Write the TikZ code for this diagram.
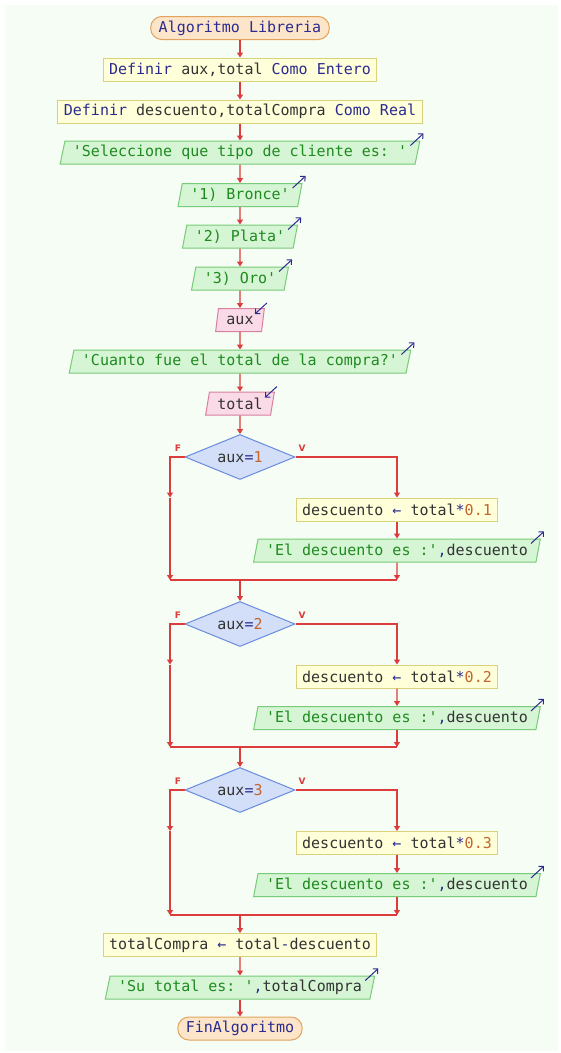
\documentclass[tikz,border=0pt]{standalone}
\usepackage{fontspec}
\setmonofont{DejaVu Sans Mono}
\newfontfamily\lblfont{DejaVu Sans}
\usetikzlibrary{shapes.geometric,arrows.meta,calc}
\definecolor{bgC}{HTML}{F5FDF5}
\definecolor{termF}{HTML}{FCE5C8}
\definecolor{termB}{HTML}{E3A35F}
\definecolor{procF}{HTML}{FFFFD9}
\definecolor{procB}{HTML}{D9D27A}
\definecolor{outF}{HTML}{D5F5D5}
\definecolor{outB}{HTML}{78CB78}
\definecolor{inF}{HTML}{F9DAE6}
\definecolor{inB}{HTML}{D9809F}
\definecolor{decF}{HTML}{D3DEF8}
\definecolor{decB}{HTML}{6A8BDD}
\definecolor{arrowR}{HTML}{DD3C3C}
\definecolor{kwC}{HTML}{2B2B90}
\definecolor{varC}{HTML}{333333}
\definecolor{strC}{HTML}{1F8A1F}
\definecolor{numC}{HTML}{C2652F}
\newcommand\Kw[1]{\textcolor{kwC}{#1}}
\newcommand\Sx[1]{\textcolor{strC}{#1}}
\newcommand\Nm[1]{\textcolor{numC}{#1}}
\newcommand\Dtxt[1]{\smash{\raisebox{-5.5pt}{#1}}}
\tikzset{
  term/.style={rectangle, rounded corners=11pt, draw=termB, fill=termF, line width=1pt, minimum height=23pt, inner xsep=8pt, inner ysep=0pt},
  proc/.style={rectangle, draw=procB, fill=procF, line width=1pt, minimum height=23pt, inner xsep=6pt, inner ysep=0pt},
  outp/.style={trapezium, trapezium left angle=72, trapezium right angle=108, trapezium stretches body, draw=outB, fill=outF, line width=1pt, minimum height=23pt, inner xsep=8pt, inner ysep=0pt},
  inp/.style={outp, draw=inB, fill=inF},
  dec/.style={diamond, shape aspect=2.44, draw=decB, fill=decF, line width=1pt, minimum width=110pt, minimum height=45pt, inner sep=0pt},
  flow/.style={draw=arrowR, line width=1.2pt, -{Triangle[width=6pt,length=5pt]}},
  link/.style={draw=arrowR, line width=1.2pt},
  icon/.style={draw=kwC, line width=1pt, -{Straight Barb[length=3.5pt,width=7pt]}},
  flag/.style={font=\lblfont\bfseries\fontsize{9}{10}\selectfont, text=arrowR, inner sep=0pt}
}
\begin{document}
\begin{tikzpicture}[x=1pt,y=-1pt, every node/.append style={font=\ttfamily\fontsize{15}{18}\selectfont, text=varC}]
\useasboundingbox (0,0) rectangle (560,1053);
\fill[bgC] (5,5) rectangle (558,1051);

\node[term] (start) at (240,28) {\Kw{Algoritmo Libreria}};
\node[proc] (def1) at (240,69.5) {\Kw{Definir} aux,total \Kw{Como Entero}};
\node[proc] (def2) at (240,111.5) {\Kw{Definir} descuento,totalCompra \Kw{Como Real}};
\node[outp] (sel) at (240,152.5) {\Sx{'Seleccione que tipo de cliente es: '}};
\node[outp] (obr) at (240,195) {\Sx{'1) Bronce'}};
\node[outp] (opl) at (240,236.5) {\Sx{'2) Plata'}};
\node[outp] (oor) at (240,278.5) {\Sx{'3) Oro'}};
\node[inp] (iaux) at (240,320) {aux};
\node[outp] (cuanto) at (240,361.5) {\Sx{'Cuanto fue el total de la compra?'}};
\node[inp] (itot) at (240,403.5) {total};

% decision 1
\node[dec] (d1) at (240,457) {\Dtxt{aux\Kw{=}\Nm{1}}};
\node[flag] (f1) at (178,448) {F};
\node[flag] (v1) at (302,448) {V};
\node[proc] (r1) at (397,509.5) {descuento \Kw{←} total\Kw{*}\Nm{0.1}};
\node[outp] (o1) at (397,550.5) {\Sx{'El descuento es :'}\Kw{,}descuento};
\coordinate (j1) at (240,580);
\coordinate (j1L) at (170,580);
\coordinate (j1R) at (397,580);
\coordinate (m1) at (j1L |- r1.north);

% decision 2
\node[dec] (d2) at (240,624) {\Dtxt{aux\Kw{=}\Nm{2}}};
\node[flag] (f2) at (178,615) {F};
\node[flag] (v2) at (302,615) {V};
\node[proc] (r2) at (397,676.5) {descuento \Kw{←} total\Kw{*}\Nm{0.2}};
\node[outp] (o2) at (397,718) {\Sx{'El descuento es :'}\Kw{,}descuento};
\coordinate (j2) at (240,747);
\coordinate (j2L) at (170,747);
\coordinate (j2R) at (397,747);
\coordinate (m2) at (j2L |- r2.north);

% decision 3
\node[dec] (d3) at (240,790) {\Dtxt{aux\Kw{=}\Nm{3}}};
\node[flag] (f3) at (178,781) {F};
\node[flag] (v3) at (302,781) {V};
\node[proc] (r3) at (397,843) {descuento \Kw{←} total\Kw{*}\Nm{0.3}};
\node[outp] (o3) at (397,885) {\Sx{'El descuento es :'}\Kw{,}descuento};
\coordinate (j3) at (240,915);
\coordinate (j3L) at (170,915);
\coordinate (j3R) at (397,915);
\coordinate (m3) at (j3L |- r3.north);

\node[proc] (tc) at (240,945) {totalCompra \Kw{←} total\Kw{-}descuento};
\node[outp] (su) at (240,987.5) {\Sx{'Su total es: '}\Kw{,}totalCompra};
\node[term] (fin) at (240,1028.5) {\Kw{FinAlgoritmo}};

% main flow
\draw[flow] (start) -- (def1);
\draw[flow] (def1) -- (def2);
\draw[flow] (def2) -- (sel);
\draw[flow] (sel) -- (obr);
\draw[flow] (obr) -- (opl);
\draw[flow] (opl) -- (oor);
\draw[flow] (oor) -- (iaux);
\draw[flow] (iaux) -- (cuanto);
\draw[flow] (cuanto) -- (itot);
\draw[flow] (itot) -- (d1);

\draw[flow] (d1.east) -| (r1.north);
\draw[flow] (r1) -- (o1);
\draw[flow] (o1) -- (j1R);
\draw[flow] (d1.west) -| (m1);
\draw[flow] (m1) -- (j1L);
\draw[link] (j1L) -- (j1R);
\draw[flow] (j1) -- (d2);

\draw[flow] (d2.east) -| (r2.north);
\draw[flow] (r2) -- (o2);
\draw[flow] (o2) -- (j2R);
\draw[flow] (d2.west) -| (m2);
\draw[flow] (m2) -- (j2L);
\draw[link] (j2L) -- (j2R);
\draw[flow] (j2) -- (d3);

\draw[flow] (d3.east) -| (r3.north);
\draw[flow] (r3) -- (o3);
\draw[flow] (o3) -- (j3R);
\draw[flow] (d3.west) -| (m3);
\draw[flow] (m3) -- (j3L);
\draw[link] (j3L) -- (j3R);
\draw[flow] (j3) -- (tc);

\draw[flow] (tc) -- (su);
\draw[flow] (su) -- (fin);

% output / input icons
\foreach \n in {sel,obr,opl,oor,cuanto,o1,o2,o3,su}{
  \draw[icon] ($(\n.top right corner)+(-10,5)$) -- ($(\n.top right corner)+(3,-7)$);
}
\foreach \n in {iaux,itot}{
  \draw[icon] ($(\n.top right corner)+(2,-5)$) -- ($(\n.top right corner)+(-10,6)$);
}
\end{tikzpicture}
\end{document}
